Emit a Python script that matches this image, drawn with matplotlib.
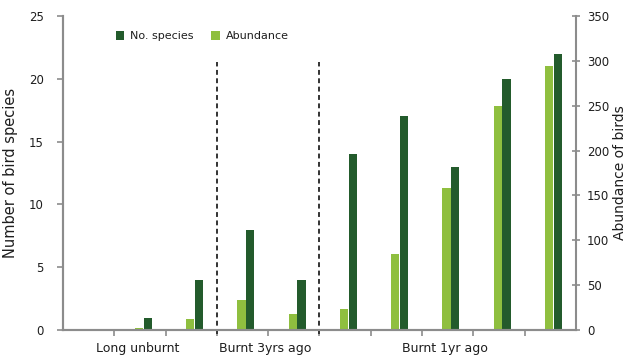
import numpy as np
import matplotlib
matplotlib.use("Agg")
import matplotlib.pyplot as plt
from matplotlib.transforms import blended_transform_factory

# data
species = [0, 1, 4, 8, 4, 14, 17, 13, 20, 22]
abundance = [0, 2, 12, 34, 18, 24, 85, 158, 250, 294]
groups = ["Long unburnt", "Burnt 3yrs ago", "Burnt 1yr ago"]
group_bounds = [(-0.5, 2.5), (2.5, 4.5), (4.5, 9.5)]
dividers = [2.5, 4.5]

dark = "#235b2c"
light = "#8fbf3f"
axis_col = "#8c8c8c"
text_col = "#1e1e1e"

plt.rcParams["font.family"] = ["DejaVu Sans"]

fig = plt.figure(figsize=(6.3, 3.62), dpi=100)
ax = fig.add_axes([0.1, 0.088, 0.814, 0.868])
ax2 = ax.twinx()

x = np.arange(len(species))
w = 0.16
ax2.bar(x - 0.02, abundance, width=w, color=light, label="Abundance", zorder=2)
ax.bar(x + 0.15, species, width=w, color=dark, label="No. species", zorder=2)

ax.set_xlim(-0.5, 9.5)
ax.set_ylim(0, 25)
ax2.set_ylim(0, 350)
ax.set_yticks(range(0, 26, 5))
ax2.set_yticks(range(0, 351, 50))
ax.set_xticks(np.arange(0.5, 9.5, 1))
ax.set_xticklabels([])

for a in (ax, ax2):
    for s in a.spines.values():
        s.set_color(axis_col)
        s.set_linewidth(1.5)
    a.spines["top"].set_visible(False)
    a.tick_params(colors=axis_col, labelcolor=text_col, labelsize=8.5, width=1.2)
ax.spines["right"].set_visible(False)
ax.tick_params(axis="y", length=4, pad=10)
ax.tick_params(axis="x", length=4)
ax2.tick_params(axis="y", direction="inout", length=6, pad=5)

for d in dividers:
    ax.plot([d, d], [-0.3, 21.3], ls=(0, (2.5, 1.8)), color="#333333", lw=1.4,
            clip_on=False, zorder=3)

tr = blended_transform_factory(ax.transData, ax.transAxes)
for g, (a0, a1) in zip(groups, group_bounds):
    ax.text((a0 + a1) / 2 - 0.05, -0.06, g, transform=tr, ha="center", va="center",
            fontsize=9, color=text_col)

ax.set_ylabel("Number of bird species", fontsize=10.5, color=text_col, labelpad=8)
ax2.set_ylabel("Abundance of birds", fontsize=10, color=text_col, labelpad=3)

h1, l1 = ax.get_legend_handles_labels()
h2, l2 = ax2.get_legend_handles_labels()
ax2.legend(h1 + h2, l1 + l2, loc="center left", bbox_to_anchor=(0.083, 0.935),
           ncol=2, frameon=False, fontsize=8, handlelength=0.8, handleheight=0.8,
           handletextpad=0.5, columnspacing=1.6, labelcolor=text_col)

fig.savefig("out.png", dpi=100)
